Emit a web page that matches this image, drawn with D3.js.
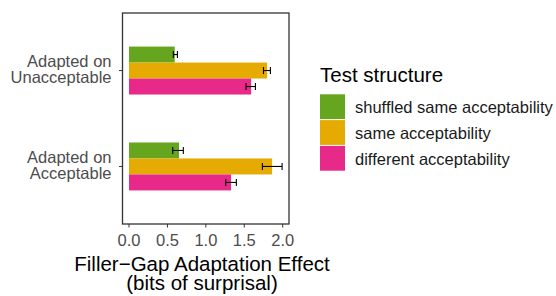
<!DOCTYPE html>
<meta charset="utf-8">
<style>
body { margin: 0; background: #fff; }
svg text { font-family: "Liberation Sans", Arial, sans-serif; }
</style>
<svg></svg>
<script src="https://d3js.org/d3.v7.min.js"></script>
<script>

var groups = ["Adapted on Unacceptable", "Adapted on Acceptable"];
var structures = ["shuffled same acceptability", "same acceptability", "different acceptability"];
var colors = ["#66a61e", "#e6ab02", "#e7298a"];

// value, lower, upper per group (rows) and structure (columns)
var means = [[0.595, 1.797, 1.589], [0.651, 1.862, 1.328]];
var lower = [[0.577, 1.75, 1.523], [0.569, 1.736, 1.259]];
var upper = [[0.63, 1.84, 1.645], [0.707, 1.992, 1.397]];
var xTicks = [0, 0.5, 1, 1.5, 2];

var width = 556, height = 296;
var panel = {left: 122.5, right: 289, top: 13, bottom: 224};

var svg = d3.select("svg")
    .attr("width", width)
    .attr("height", height);

var x = d3.scaleLinear()
    .domain([0, 2])
    .range([129, 282.7]);

// ggplot style discrete axis: 0.6 units padding either side
var unit = (panel.bottom - panel.top) / 2.2;
var y = d3.scalePoint()
    .domain(groups)
    .range([panel.top + 0.6 * unit, panel.bottom - 0.6 * unit]);

var barH = 0.5 * unit / 3;

var data = [];
groups.forEach(function(g, i) {
  structures.forEach(function(s, j) {
    data.push({g: g, j: j, v: means[i][j], lo: lower[i][j], hi: upper[i][j]});
  });
});

function yTop(d) { return y(d.g) - 1.5 * barH + d.j * barH; }

svg.append("g").selectAll("rect")
    .data(data)
  .enter().append("rect")
    .attr("x", x(0))
    .attr("y", yTop)
    .attr("width", function(d) { return x(d.v) - x(0); })
    .attr("height", barH)
    .attr("fill", function(d) { return colors[d.j]; });

var err = svg.append("g")
    .attr("stroke", "#000")
    .attr("stroke-width", 1.1);

data.forEach(function(d) {
  var cy = yTop(d) + barH / 2;
  err.append("line").attr("x1", x(d.lo)).attr("x2", x(d.hi)).attr("y1", cy).attr("y2", cy);
  err.append("line").attr("x1", x(d.lo)).attr("x2", x(d.lo)).attr("y1", cy - 3.5).attr("y2", cy + 3.5);
  err.append("line").attr("x1", x(d.hi)).attr("x2", x(d.hi)).attr("y1", cy - 3.5).attr("y2", cy + 3.5);
});

// panel border
svg.append("rect")
    .attr("x", panel.left)
    .attr("y", panel.top)
    .attr("width", panel.right - panel.left)
    .attr("height", panel.bottom - panel.top)
    .attr("fill", "none")
    .attr("stroke", "#333")
    .attr("stroke-width", 1.3);

// x axis
var xa = svg.append("g");
xTicks.forEach(function(t) {
  xa.append("line")
      .attr("x1", x(t)).attr("x2", x(t))
      .attr("y1", panel.bottom).attr("y2", panel.bottom + 3.5)
      .attr("stroke", "#333").attr("stroke-width", 1);
  xa.append("text")
      .attr("x", x(t))
      .attr("y", 246)
      .attr("text-anchor", "middle")
      .attr("font-size", 16.5)
      .attr("fill", "#4d4d4d")
      .text(d3.format(".1f")(t));
});

// y axis
var ya = svg.append("g");
groups.forEach(function(g) {
  ya.append("line")
      .attr("x1", panel.left - 3.5).attr("x2", panel.left)
      .attr("y1", y(g)).attr("y2", y(g))
      .attr("stroke", "#333").attr("stroke-width", 1);
  var parts = g.split(" on ");
  var t = ya.append("text")
      .attr("text-anchor", "end")
      .attr("font-size", 16.5)
      .attr("fill", "#4d4d4d");
  t.append("tspan").attr("x", 111.5).attr("y", y(g) - 3.5).text(parts[0] + " on");
  t.append("tspan").attr("x", 111.5).attr("y", y(g) + 12.8).text(parts[1]);
});

// x title
svg.append("text")
    .attr("x", 202).attr("y", 270.5)
    .attr("text-anchor", "middle")
    .attr("font-size", 20.5)
    .text("Filler\u2212Gap Adaptation Effect");
svg.append("text")
    .attr("x", 202).attr("y", 289.5)
    .attr("text-anchor", "middle")
    .attr("font-size", 20.5)
    .text("(bits of surprisal)");

// legend
var lg = svg.append("g");
lg.append("text")
    .attr("x", 320).attr("y", 81.7)
    .attr("font-size", 20.5)
    .text("Test structure");
structures.forEach(function(s, j) {
  lg.append("rect")
      .attr("x", 320).attr("y", 94.3 + j * 25.8)
      .attr("width", 25).attr("height", 24.8)
      .attr("fill", colors[j]);
  lg.append("text")
      .attr("x", 355).attr("y", 113.3 + j * 25.8)
      .attr("font-size", 16.5)
      .attr("fill", "#1a1a1a")
      .text(s);
});

</script>
